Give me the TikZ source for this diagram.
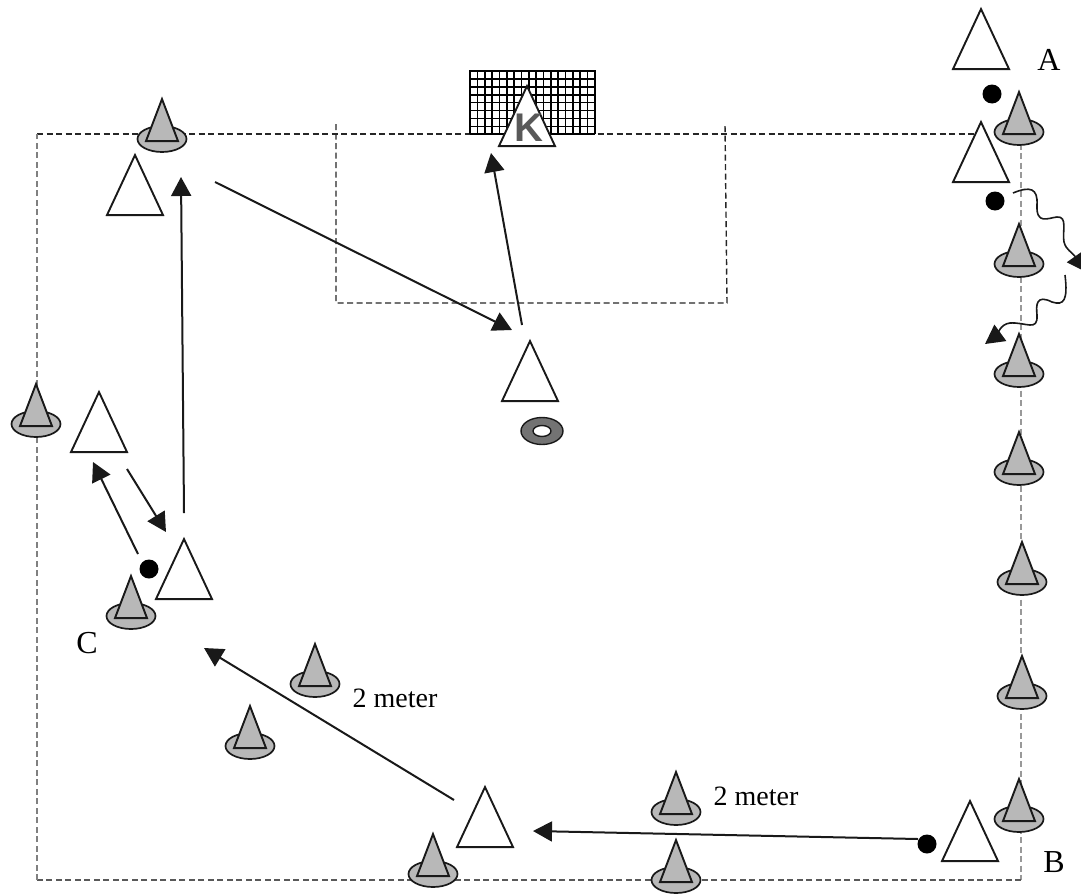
\documentclass[tikz,border=0pt]{standalone}
\usepackage{fontspec}
\setmainfont{Liberation Serif}
\newfontfamily\keeperfont{Liberation Sans}
\usetikzlibrary{arrows.meta,shapes.geometric}

\begin{document}
\begin{tikzpicture}[x=1pt,y=-1pt,>={Stealth[length=19pt,width=20pt,inset=0pt]},
    player/.style={isosceles triangle,isosceles triangle stretches,shape border rotate=90,draw=black!90,fill=white,line width=1.9pt,minimum width=56pt,minimum height=60pt,inner sep=0pt,anchor=lower side},
    conetop/.style={isosceles triangle,isosceles triangle stretches,shape border rotate=90,draw=black!90,fill=black!28,line width=1.9pt,minimum width=32pt,minimum height=42pt,inner sep=0pt,anchor=lower side},
    conebase/.style={ellipse,draw=black!90,fill=black!28,line width=1.7pt,minimum width=49pt,minimum height=26pt,inner sep=0pt},
    ball/.style={circle,fill=black,minimum size=19pt,inner sep=0pt},
    pass/.style={->,line width=2pt,black!90},
    field/.style={line width=1.4pt,dash pattern=on 6pt off 3.5pt},
    lbl/.style={font=\fontsize{28}{30}\selectfont,inner sep=0pt}]

    \useasboundingbox (0,0) rectangle (1081,894);

    % field
    \coordinate (tl) at (37,134);
    \coordinate (tr) at (985,134);
    \coordinate (rt) at (1021,134);
    \coordinate (br) at (1021,880);
    \coordinate (bl) at (37,880);
    \draw[field,black!85] (tl) -- (tr);
    \draw[field,black!40,line width=1.9pt] (rt) -- (br);
    \draw[field,black!65] (br) -- (bl);
    \draw[field,black!50] (bl) -- (tl);

    % box
    \coordinate (b1) at (336,124);
    \coordinate (b2) at (336,303);
    \coordinate (b3) at (727,303);
    \coordinate (b4) at (725,124);
    \draw[field,black!85] (b1) -- (b2) -- (b3) -- (b4);

    % goal
    \foreach \x in {0,...,17} {
        \draw[line width=1.6pt] (470+\x*7.35,70) -- (470+\x*7.35,134);
    }
    \foreach \y in {0,...,8} {
        \draw[line width=1.6pt] (470,71+\y*7.9) -- (595,71+\y*7.9);
    }

    % cones
    \foreach \n/\x/\y in {c1/1019/132,c2/1019/264,c3/1019/374,c4/1019/472,c5/1022/582,c6/1022/696,c7/1019/819,
        c8/162/139,c9/36/424,c10/131/616,c11/315/684,c12/250/746,c13/433/874,c14/676/812,c15/676/880} {
        \node[conebase] (\n b) at (\x,\y) {};
        \node[conetop] (\n) at (\x,\y+3) {};
    }

    % players
    \node[player] (pa) at (981,70) {};
    \node[player] (pa2) at (981,183) {};
    \node[player] (ptop) at (135,216) {};
    \node[player] (keeper) at (527,147) {};
    \node[player] (pmid) at (530,402) {};
    \node[player] (pleft) at (99,453) {};
    \node[player] (pc) at (184,600) {};
    \node[player] (plow) at (485,848) {};
    \node[player] (pb) at (970,862) {};
    \node[text=black!65,inner sep=0pt,font=\keeperfont\bfseries\fontsize{40}{40}\selectfont] (k) at (529,128) {K};

    % balls
    \node[ball] (b_a) at (992,94) {};
    \node[ball] (b_a2) at (995,201) {};
    \node[ball] (b_c) at (149,569) {};
    \node[ball] (b_b) at (927,844) {};

    % ring
    \node[ellipse,draw=black!90,fill=black!55,line width=1.4pt,minimum width=42pt,minimum height=27pt,inner sep=0pt] (ring) at (542,431) {};
    \node[ellipse,draw=black!90,fill=white,line width=1.4pt,minimum width=18pt,minimum height=11pt,inner sep=0pt] (hole) at (542,431) {};

    % passes
    \coordinate (s1) at (215,182);
    \coordinate (e1) at (512,330);
    \coordinate (s2) at (522,325);
    \coordinate (e2) at (491,153);
    \coordinate (s3) at (184,513);
    \coordinate (e3) at (181,177);
    \coordinate (s4) at (138,554);
    \coordinate (e4) at (93,462);
    \coordinate (s5) at (127,469);
    \coordinate (e5) at (166,532);
    \coordinate (s6) at (454,800);
    \coordinate (e6) at (204,648);
    \coordinate (s7) at (918,839);
    \coordinate (e7) at (533,831);
    \draw[pass] (s1) -- (e1);
    \draw[pass] (s2) -- (e2);
    \draw[pass] (s3) -- (e3);
    \draw[pass] (s4) -- (e4);
    \draw[pass] (s5) -- (e5);
    \draw[pass] (s6) -- (e6);
    \draw[pass] (s7) -- (e7);

    % dribble
    \coordinate (s8) at (1013,193);
    \coordinate (e8) at (1086,272);
    \coordinate (s9) at (1065,275);
    \coordinate (e9) at (985,344);
    \draw[->,line width=1.6pt,black!90] (s8) .. controls (1030,186) and (1038,188) .. (1037,205)
        .. controls (1036,225) and (1048,218) .. (1057,217)
        .. controls (1068,216) and (1062,232) .. (1064,242)
        .. controls (1066,250) and (1072,252) .. (e8);
    \draw[->,line width=1.6pt,black!90] (s9) .. controls (1068,300) and (1064,306) .. (1052,302)
        .. controls (1036,294) and (1036,305) .. (1037,315)
        .. controls (1038,332) and (1026,322) .. (1010,323)
        .. controls (1000,324) and (996,336) .. (e9);

    % labels
    \node[lbl,font=\fontsize{32}{32}\selectfont] (la) at (1049,60) {A};
    \node[lbl,font=\fontsize{32}{32}\selectfont] (lb) at (1054,862) {B};
    \node[lbl,font=\fontsize{32}{32}\selectfont] (lc) at (87,643) {C};
    \node[lbl] (m1) at (395,698) {2 meter};
    \node[lbl] (m2) at (756,796) {2 meter};
\end{tikzpicture}
\end{document}
